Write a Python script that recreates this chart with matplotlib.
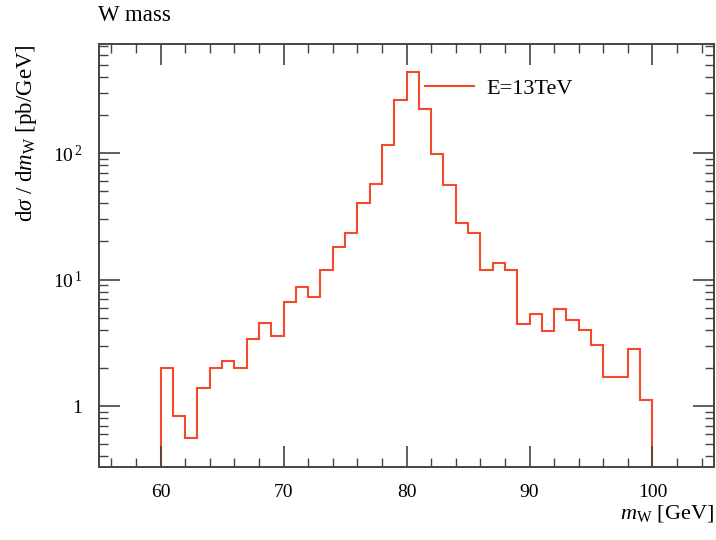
import matplotlib
matplotlib.use("Agg")
import matplotlib.pyplot as plt
from matplotlib.ticker import FixedLocator, FuncFormatter
import numpy as np

plt.rcParams['font.family'] = ['Liberation Serif', 'DejaVu Serif']
plt.rcParams['mathtext.fontset'] = 'custom'
plt.rcParams['mathtext.rm'] = 'Liberation Serif'
plt.rcParams['mathtext.it'] = 'Liberation Serif:italic'

# W mass histogram, 1 GeV bins from 60 to 100 GeV
edges = list(range(60, 101))
values = [2.0, 0.84, 0.56, 1.40, 2.0, 2.26, 2.0, 3.37, 4.5, 3.6,
          6.7, 8.7, 7.3, 11.9, 18.2, 23.4, 40.3, 56.5, 115, 261,
          435, 224, 98.7, 56.2, 28.1, 23.4, 12.0, 13.6, 12.0, 4.45,
          5.34, 3.94, 5.88, 4.78, 3.97, 3.05, 1.70, 1.70, 2.82, 1.11]
label = "E=13TeV"

fig = plt.figure(figsize=(7.16, 5.4), dpi=100)
ax = fig.add_axes([0.1383, 0.1352, 0.9972 - 0.1383, 0.9185 - 0.1352])

ax.stairs(values, edges, baseline=1e-3, color='#f44a2c', linewidth=1.5, label=label)

ax.set_yscale('log')
ax.set_xlim(55, 105)
ax.set_ylim(0.33, 728)

ax.xaxis.set_major_locator(FixedLocator([60, 70, 80, 90, 100]))
ax.xaxis.set_minor_locator(FixedLocator(np.arange(56, 105, 2)))
ax.yaxis.set_major_locator(FixedLocator([1, 10, 100]))
ax.yaxis.set_major_formatter(FuncFormatter(
    lambda v, p: '1' if v == 1 else r'$10^{\,%d}$' % round(np.log10(v))))

for s in ax.spines.values():
    s.set_linewidth(1.4)
    s.set_color('#444444')
ax.tick_params(which='both', direction='in', top=True, right=True,
               color='#444444', labelsize=14)
ax.tick_params(which='major', length=15, width=1.2, pad=12)
ax.tick_params(which='minor', length=6.5, width=1.0)

ax.set_xlabel(r'$m_\mathrm{W}$ [GeV]', fontsize=16, loc='right', labelpad=2)
ax.set_ylabel(r'd$\sigma$ / d$m_\mathrm{W}$ [pb/GeV]', fontsize=16.5, loc='top', labelpad=10)
fig.text(0.137, 0.972, "W mass", fontsize=16.5, ha='left', va='center')

ax.legend(loc='upper left', bbox_to_anchor=(0.530, 0.918), frameon=False,
          fontsize=16, handlelength=2.2, handletextpad=0.55,
          borderpad=0, borderaxespad=0)

fig.savefig("out.png", dpi=100)
